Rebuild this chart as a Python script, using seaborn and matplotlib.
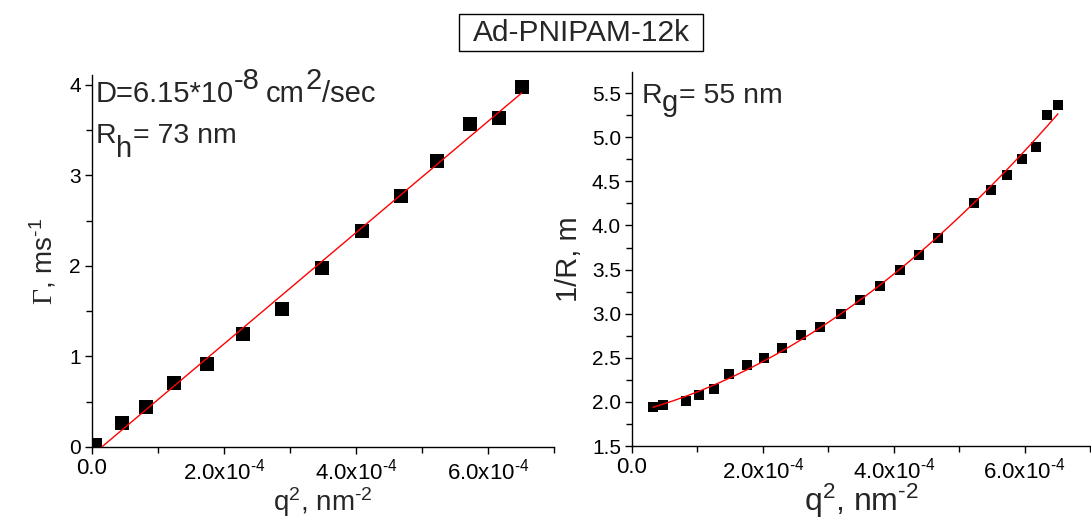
import numpy as np
import pandas as pd
import matplotlib
matplotlib.use("Agg")
import matplotlib.pyplot as plt
from matplotlib.patches import Rectangle
import seaborn as sns

# ---- data ----
q2_left = [0.04e-4, 0.455e-4, 0.82e-4, 1.24e-4, 1.74e-4, 2.29e-4, 2.88e-4,
           3.49e-4, 4.09e-4, 4.68e-4, 5.23e-4, 5.73e-4, 6.16e-4, 6.51e-4]
gamma = [0.02, 0.26, 0.44, 0.71, 0.92, 1.25, 1.52,
         1.98, 2.39, 2.77, 3.16, 3.57, 3.64, 3.98]

q2_right = [0.32e-4, 0.47e-4, 0.82e-4, 1.02e-4, 1.25e-4, 1.49e-4, 1.75e-4,
            2.01e-4, 2.29e-4, 2.58e-4, 2.88e-4, 3.19e-4, 3.49e-4, 3.79e-4,
            4.09e-4, 4.38e-4, 4.67e-4, 5.23e-4, 5.49e-4, 5.73e-4, 5.96e-4,
            6.17e-4, 6.34e-4, 6.51e-4]
inv_r = [1.94, 1.96, 2.01, 2.08, 2.15, 2.32, 2.42,
         2.50, 2.61, 2.76, 2.85, 3.00, 3.15, 3.31,
         3.49, 3.67, 3.86, 4.25, 4.40, 4.57, 4.75,
         4.89, 5.25, 5.37]

HY = "\u2010"  # hyphen used for exponents, as in the original
x_ticks = [0.0, 2.0e-4, 4.0e-4, 6.0e-4]
x_ticklabels = ["0.0", "2.0x10$^{" + HY + "4}$", "4.0x10$^{" + HY + "4}$",
                "6.0x10$^{" + HY + "4}$"]
left_yticks = [0, 1, 2, 3, 4]
left_yticklabels = ["0", "1", "2", "3", "4"]
right_yticks = [1.5, 2.0, 2.5, 3.0, 3.5, 4.0, 4.5, 5.0, 5.5]
right_yticklabels = ["1.5", "2.0", "2.5", "3.0", "3.5", "4.0", "4.5", "5.0", "5.5"]

title_text = "Ad-PNIPAM-12k"
# (text, fontsize, vertical offset in points, gap before in points)
left_note1 = [("D=6.15*10", 21, 0, 0), ("-8", 21, 9.5, 0.5), ("cm", 21, 0, 4.5),
              ("2", 21, 9.5, 0.3), ("/sec", 21, 0, 0)]
left_note2 = [("R", 20.5, 0, 0), ("h", 21, -10, 0), ("= 73 nm", 20.5, 0, 0.5)]
right_note = [("R", 20.5, 0, 0), ("g", 21, -6, 0), ("= 55 nm", 20.5, 0, 0.5)]

df_left = pd.DataFrame({"q2": q2_left, "gamma": gamma})
df_right = pd.DataFrame({"q2": q2_right, "invR": inv_r})

# ---- style ----
sns.set_theme(style="ticks")
plt.rcParams["font.family"] = ["Liberation Sans", "DejaVu Sans"]
plt.rcParams["mathtext.fontset"] = "custom"
plt.rcParams["mathtext.rm"] = "Liberation Sans"
plt.rcParams["mathtext.it"] = "Liberation Sans"
plt.rcParams["mathtext.cal"] = "Liberation Serif"
plt.rcParams["mathtext.default"] = "regular"
plt.rcParams["axes.edgecolor"] = "black"
plt.rcParams["axes.linewidth"] = 1.0
plt.rcParams["xtick.color"] = "black"
plt.rcParams["ytick.color"] = "black"

fig = plt.figure(figsize=(10.91, 5.28), dpi=100)
ax1 = fig.add_axes([92 / 1091, (528 - 447) / 528, 462 / 1091, (447 - 75) / 528])
ax2 = fig.add_axes([632 / 1091, (528 - 446) / 528, 458 / 1091, (446 - 72) / 528])

# left panel
sns.scatterplot(data=df_left, x="q2", y="gamma", ax=ax1, marker="s", s=110,
                color="black", edgecolor="black", linewidth=0, zorder=3)
sns.regplot(data=df_left, x="q2", y="gamma", ax=ax1, scatter=False, ci=None,
            order=1, line_kws=dict(color="red", lw=1.0, zorder=4))
ax1.set_xlim(0, 7e-4)
ax1.set_ylim(0, 4.11)

# right panel
sns.scatterplot(data=df_right, x="q2", y="invR", ax=ax2, marker="s", s=60,
                color="black", edgecolor="black", linewidth=0, zorder=3)
sns.regplot(data=df_right, x="q2", y="invR", ax=ax2, scatter=False, ci=None,
            order=2, line_kws=dict(color="red", lw=1.0, zorder=4))
ax2.set_xlim(0, 7e-4)
ax2.set_ylim(1.5, 5.74)

for ax in (ax1, ax2):
    sns.despine(ax=ax)
    ax.set_xticks(x_ticks)
    ax.set_xticklabels(x_ticklabels, fontsize=16)
    ax.set_xticks([1e-4, 3e-4, 5e-4, 7e-4], minor=True)
    ax.tick_params(axis="both", which="major", direction="out", length=5,
                   width=1, pad=3)
    ax.tick_params(axis="both", which="minor", direction="out", length=4,
                   width=1)

ax1.set_yticks(left_yticks)
ax1.set_yticklabels(left_yticklabels, fontsize=15)
ax1.set_yticks([0.5, 1.5, 2.5, 3.5], minor=True)
ax2.set_yticks(right_yticks)
ax2.set_yticklabels(right_yticklabels, fontsize=15)
ax2.set_yticks([1.75, 2.25, 2.75, 3.25, 3.75, 4.25, 4.75, 5.25], minor=True)

ax1.set_xlabel("q$^{2}$, nm$^{" + HY + "2}$", fontsize=20, labelpad=1)
ax1.set_ylabel("$\\mathcal{\\Gamma}$, ms$^{" + HY + "1}$", fontsize=20, labelpad=8)
ax2.set_xlabel("q$^{2}$, nm$^{" + HY + "2}$", fontsize=23, labelpad=-1)
ax2.set_ylabel("1/R, m", fontsize=21, labelpad=6)


def chain(ax, x0, y0, pieces):
    prev = None
    for txt, size, dy, gap in pieces:
        if prev is None:
            t = ax.annotate(txt, xy=(x0, y0), xycoords="axes fraction",
                            xytext=(0, dy), textcoords="offset points",
                            fontsize=size, ha="left", va="baseline")
        else:
            t = ax.annotate(txt, xy=(1, y0), xycoords=(prev, "axes fraction"),
                            xytext=(gap, dy), textcoords="offset points",
                            fontsize=size, ha="left", va="baseline")
        prev = t


chain(ax1, 0.007, 0.928, left_note1)
chain(ax1, 0.007, 0.817, left_note2)
chain(ax2, 0.020, 0.917, right_note)

fig.text(581 / 1091, 1 - 33 / 528, title_text, fontsize=21.5, ha="center",
         va="center")
fig.patches.append(Rectangle((459 / 1091, 1 - 51 / 528), 244 / 1091, 37 / 528,
                             transform=fig.transFigure, facecolor="none",
                             edgecolor="black", linewidth=1))

fig.savefig("out.png", dpi=100)
